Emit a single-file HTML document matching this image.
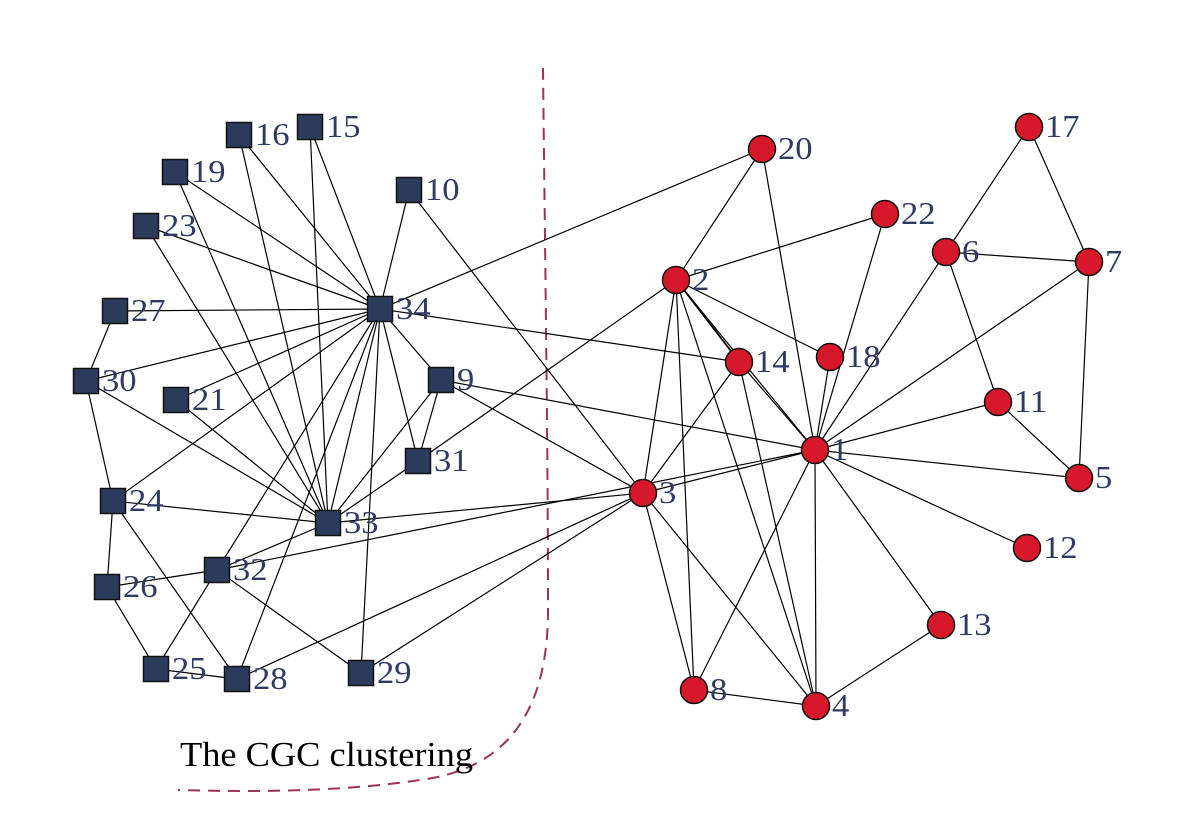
<!DOCTYPE html>
<html><head><style>body{margin:0;background:#fff}svg{display:block}text{font-family:"Liberation Serif",serif;fill:#2f3b63;font-size:32px}</style></head><body>
<svg width="1180" height="821" viewBox="0 0 1180 821" xmlns="http://www.w3.org/2000/svg">
<path d="M543,68 C545,250 548,450 548,610 C548,720 500,770 420,780 C340,792 250,792 178,790" fill="none" stroke="#9b3358" stroke-width="2" stroke-dasharray="12,8"/>
<g id="edges" stroke="#000" stroke-width="1.2"></g>
<g id="nodes"></g>
<text x="180" y="766" transform="translate(180 0) scale(1.04 1) translate(-180 0)" style="fill:#000;font-size:35px">The CGC clustering</text>
<script>
var P={16:[239,135],15:[310,127],19:[175,172],10:[409,190],23:[146,226],27:[115,311],34:[380,309],30:[86,381],21:[176,400],9:[441,380],31:[418,461],24:[113,501],33:[328,523],32:[217,570],26:[107,587],25:[156,669],28:[237,679],29:[361,673],
20:[762,149],17:[1029,127],22:[885,214],6:[946,252],7:[1089,262],2:[676,280],14:[739,362],18:[830,357],11:[998,402],1:[815,450],5:[1079,478],3:[643,493],12:[1027,548],13:[941,625],8:[694,690],4:[816,706]};
var E=[[16,34],[16,33],[15,34],[15,33],[19,34],[19,33],[23,34],[23,33],[27,34],[27,30],[30,34],[30,33],[30,24],[21,33],[21,34],[10,34],[10,3],[9,34],[9,31],[9,3],[9,33],[9,1],[31,34],[31,33],[31,2],[24,34],[24,33],[24,26],[24,28],[33,34],[33,3],[33,32],[32,34],[32,1],[32,26],[32,25],[32,29],[26,25],[25,28],[28,34],[28,3],[29,34],[29,3],[34,20],[34,14],
[2,20],[2,22],[2,3],[2,14],[2,18],[2,1],[2,4],[2,8],[3,14],[3,1],[3,8],[3,4],[1,20],[1,22],[1,18],[1,6],[1,7],[1,11],[1,5],[1,12],[1,13],[1,8],[1,4],[1,14],[14,4],[6,17],[6,7],[6,11],[17,7],[7,5],[11,5],[4,13],[4,8]];
var ns="http://www.w3.org/2000/svg",ge=document.getElementById("edges"),gn=document.getElementById("nodes");
E.forEach(function(e){var a=P[e[0]],b=P[e[1]],l=document.createElementNS(ns,"line");l.setAttribute("x1",a[0]);l.setAttribute("y1",a[1]);l.setAttribute("x2",b[0]);l.setAttribute("y2",b[1]);ge.appendChild(l);});
var l2=document.createElementNS(ns,"line");l2.setAttribute("x1",679);l2.setAttribute("y1",283);l2.setAttribute("x2",742);l2.setAttribute("y2",365);ge.appendChild(l2);
for(var k in P){var p=P[k],s;if(p[0]<540){s=document.createElementNS(ns,"rect");s.setAttribute("x",p[0]-12.5);s.setAttribute("y",p[1]-12.5);s.setAttribute("width",25);s.setAttribute("height",25);s.setAttribute("fill","#2c3a5c");s.setAttribute("stroke","#111");s.setAttribute("stroke-width","1.5");}else{s=document.createElementNS(ns,"circle");s.setAttribute("cx",p[0]);s.setAttribute("cy",p[1]);s.setAttribute("r",13.5);s.setAttribute("fill","#d7182a");s.setAttribute("stroke","#111");s.setAttribute("stroke-width","1.5");}gn.appendChild(s);
var t=document.createElementNS(ns,"text");var tx=p[0]+16;t.setAttribute("x",tx);t.setAttribute("y",p[1]+10);t.setAttribute("transform","translate("+tx+" 0) scale(1.08 1) translate("+(-tx)+" 0)");t.textContent=k;gn.appendChild(t);}
</script>
</svg>
</body></html>
